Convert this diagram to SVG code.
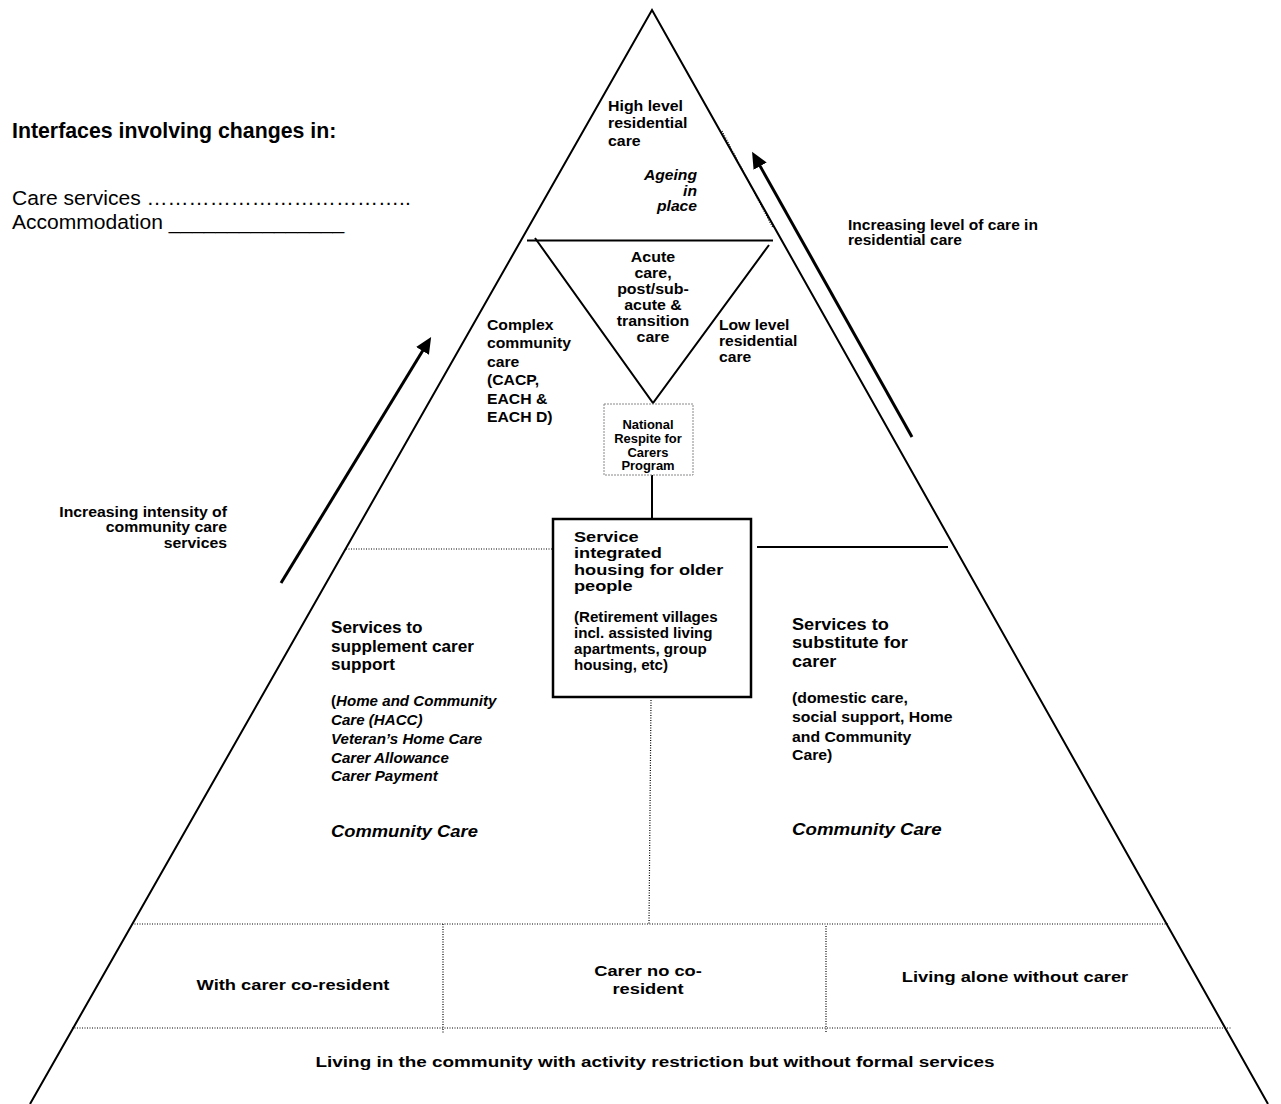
<svg xmlns="http://www.w3.org/2000/svg" width="1281" height="1104" viewBox="0 0 1281 1104">
<defs>
<style>
text{font-family:"Liberation Sans",Arial,Helvetica,sans-serif;fill:#000}
.b{font-weight:bold}
.i{font-style:italic}
.ln{stroke:#000;stroke-width:2;fill:none}
.dot{stroke:#000;stroke-width:1.2;stroke-dasharray:1 1.5;fill:none}
.arr{stroke:#000;stroke-width:3;fill:none}
</style>
<marker id="ah" markerWidth="6" markerHeight="5" refX="3.5" refY="2.5" orient="auto" markerUnits="strokeWidth">
<path d="M0,0 L5.5,2.5 L0,5 z" fill="#000"/>
</marker>
</defs>
<rect width="1281" height="1104" fill="#fff"/>

<g id="connectors">
<polyline class="ln" points="30,1104 652,10 1268,1104"/>
<path class="dot" d="M722,131 L773,228" stroke="#555"/>
<polyline class="ln" points="527,240.5 773,240.5"/>
<polyline class="ln" points="535,238 653,403 769,245"/>
<line class="ln" x1="652" y1="475" x2="652" y2="519"/>
<line class="ln" x1="757" y1="547" x2="948" y2="547"/>
<line class="dot" x1="346" y1="549" x2="553" y2="549"/>
<line class="dot" x1="651" y1="700" x2="649" y2="924"/>
<line class="dot" x1="132" y1="924" x2="1168" y2="924"/>
<line class="dot" x1="72" y1="1028" x2="1232" y2="1028"/>
<line class="dot" x1="443" y1="924" x2="443" y2="1033"/>
<line class="dot" x1="826" y1="926" x2="826" y2="1033"/>
<line class="arr" x1="912" y1="437" x2="755" y2="157" marker-end="url(#ah)"/>
<line class="arr" x1="281" y1="583" x2="428" y2="342" marker-end="url(#ah)"/>
</g>

<g id="legend">
<text class="b" x="12" y="138" style="font-size:21.3px">Interfaces involving changes in:</text>
<g transform="translate(12,0) scale(1.08,1)">
<text style="font-size:19.5px"><tspan x="0" y="205">Care services ………………………………..</tspan><tspan x="0" y="229">Accommodation _______________</tspan></text>
</g>
</g>

<g id="high-level" transform="translate(608,0) scale(1.06,1)">
<text class="b" style="font-size:15px"><tspan x="0" y="111">High level</tspan><tspan x="0" y="128.5">residential</tspan><tspan x="0" y="146">care</tspan></text>
</g>

<g id="ageing" transform="translate(697,0) scale(1.08,1)">
<text class="b i" text-anchor="end" style="font-size:14.5px"><tspan x="0" y="180">Ageing</tspan><tspan x="0" y="196">in</tspan><tspan x="0" y="211.5">place</tspan></text>
</g>

<g id="acute" transform="translate(653,0) scale(1.1,1)">
<text class="b" text-anchor="middle" style="font-size:14.5px"><tspan x="0" y="262">Acute</tspan><tspan x="0" y="278">care,</tspan><tspan x="0" y="294">post/sub-</tspan><tspan x="0" y="310">acute &amp;</tspan><tspan x="0" y="326">transition</tspan><tspan x="0" y="342">care</tspan></text>
</g>

<g id="complex" transform="translate(487,0) scale(1.05,1)">
<text class="b" style="font-size:15px"><tspan x="0" y="330">Complex</tspan><tspan x="0" y="348.5">community</tspan><tspan x="0" y="367">care</tspan><tspan x="0" y="385">(CACP,</tspan><tspan x="0" y="404">EACH &amp;</tspan><tspan x="0" y="422.5">EACH D)</tspan></text>
</g>

<g id="low-level" transform="translate(719,0) scale(1.08,1)">
<text class="b" style="font-size:14.5px"><tspan x="0" y="330.5">Low level</tspan><tspan x="0" y="346.5">residential</tspan><tspan x="0" y="362">care</tspan></text>
</g>

<g id="respite">
<rect x="604" y="404" width="89" height="71" fill="#fff" stroke="#888" stroke-width="1" stroke-dasharray="2 1"/>
<g transform="translate(648,0) scale(1.08,1)">
<text class="b" text-anchor="middle" style="font-size:12px"><tspan x="0" y="429">National</tspan><tspan x="0" y="443">Respite  for</tspan><tspan x="0" y="457">Carers</tspan><tspan x="0" y="470.5">Program</tspan></text>
</g>
</g>

<g id="housing">
<rect x="553" y="519" width="198" height="178" fill="#fff" stroke="#000" stroke-width="2.5"/>
<g transform="translate(574,0) scale(1.18,1)">
<text class="b" style="font-size:15.4px"><tspan x="0" y="541.7">Service</tspan><tspan x="0" y="558.3">integrated</tspan><tspan x="0" y="575">housing for older</tspan><tspan x="0" y="591">people</tspan></text>
</g>
<g transform="translate(574,0) scale(1.08,1)">
<text class="b" style="font-size:14px"><tspan x="0" y="621.7">(Retirement villages</tspan><tspan x="0" y="638.3">incl. assisted living</tspan><tspan x="0" y="654.3">apartments, group</tspan><tspan x="0" y="670">housing, etc)</tspan></text>
</g>
</g>

<g id="supplement">
<g transform="translate(331,0) scale(1.04,1)">
<text class="b" style="font-size:16.5px"><tspan x="0" y="633.3">Services to</tspan><tspan x="0" y="651.7">supplement carer</tspan><tspan x="0" y="670">support</tspan></text>
</g>
<g transform="translate(331,0) scale(1.08,1)">
<text class="b" style="font-size:14px"><tspan x="0" y="706">(<tspan class="i">Home and Community</tspan></tspan><tspan class="i" x="0" y="725">Care (HACC)</tspan><tspan class="i" x="0" y="744">Veteran’s Home Care</tspan><tspan class="i" x="0" y="762.7">Carer Allowance</tspan><tspan class="i" x="0" y="781">Carer Payment</tspan></text>
</g>
<g transform="translate(331,0) scale(1.08,1)">
<text class="b i" x="0" y="837" style="font-size:17px">Community Care</text>
</g>
</g>

<g id="substitute">
<g transform="translate(792,0) scale(1.1,1)">
<text class="b" style="font-size:16.5px"><tspan x="0" y="630">Services to</tspan><tspan x="0" y="648.3">substitute for</tspan><tspan x="0" y="666.7">carer</tspan></text>
</g>
<g transform="translate(792,0) scale(1.09,1)">
<text class="b" style="font-size:14.5px"><tspan x="0" y="703.3">(domestic care,</tspan><tspan x="0" y="722.3">social support, Home</tspan><tspan x="0" y="741.7">and Community</tspan><tspan x="0" y="760">Care)</tspan></text>
</g>
<g transform="translate(792,0) scale(1.1,1)">
<text class="b i" x="0" y="835" style="font-size:17px">Community Care</text>
</g>
</g>

<g id="level-of-care" transform="translate(848,0) scale(1.11,1)">
<text class="b" style="font-size:14px"><tspan x="0" y="230">Increasing level of care in</tspan><tspan x="0" y="245">residential care</tspan></text>
</g>

<g id="intensity" transform="translate(227,0) scale(1.13,1)">
<text class="b" text-anchor="end" style="font-size:14px"><tspan x="0" y="516.7">Increasing intensity of</tspan><tspan x="0" y="531.7">community care</tspan><tspan x="0" y="547.7">services</tspan></text>
</g>

<g id="with-carer" transform="translate(293,0) scale(1.18,1)">
<text class="b" text-anchor="middle" x="0" y="990" style="font-size:15.5px">With carer co-resident</text>
</g>
<g id="carer-no" transform="translate(648,0) scale(1.18,1)">
<text class="b" text-anchor="middle" style="font-size:15.5px"><tspan x="0" y="976">Carer no co-</tspan><tspan x="0" y="994">resident</tspan></text>
</g>
<g id="alone" transform="translate(1015,0) scale(1.18,1)">
<text class="b" text-anchor="middle" x="0" y="982" style="font-size:15.5px">Living alone without carer</text>
</g>
<g id="community" transform="translate(655,0) scale(1.22,1)">
<text class="b" text-anchor="middle" x="0" y="1067" style="font-size:15.5px">Living in the community with activity restriction but without formal services</text>
</g>
</svg>
